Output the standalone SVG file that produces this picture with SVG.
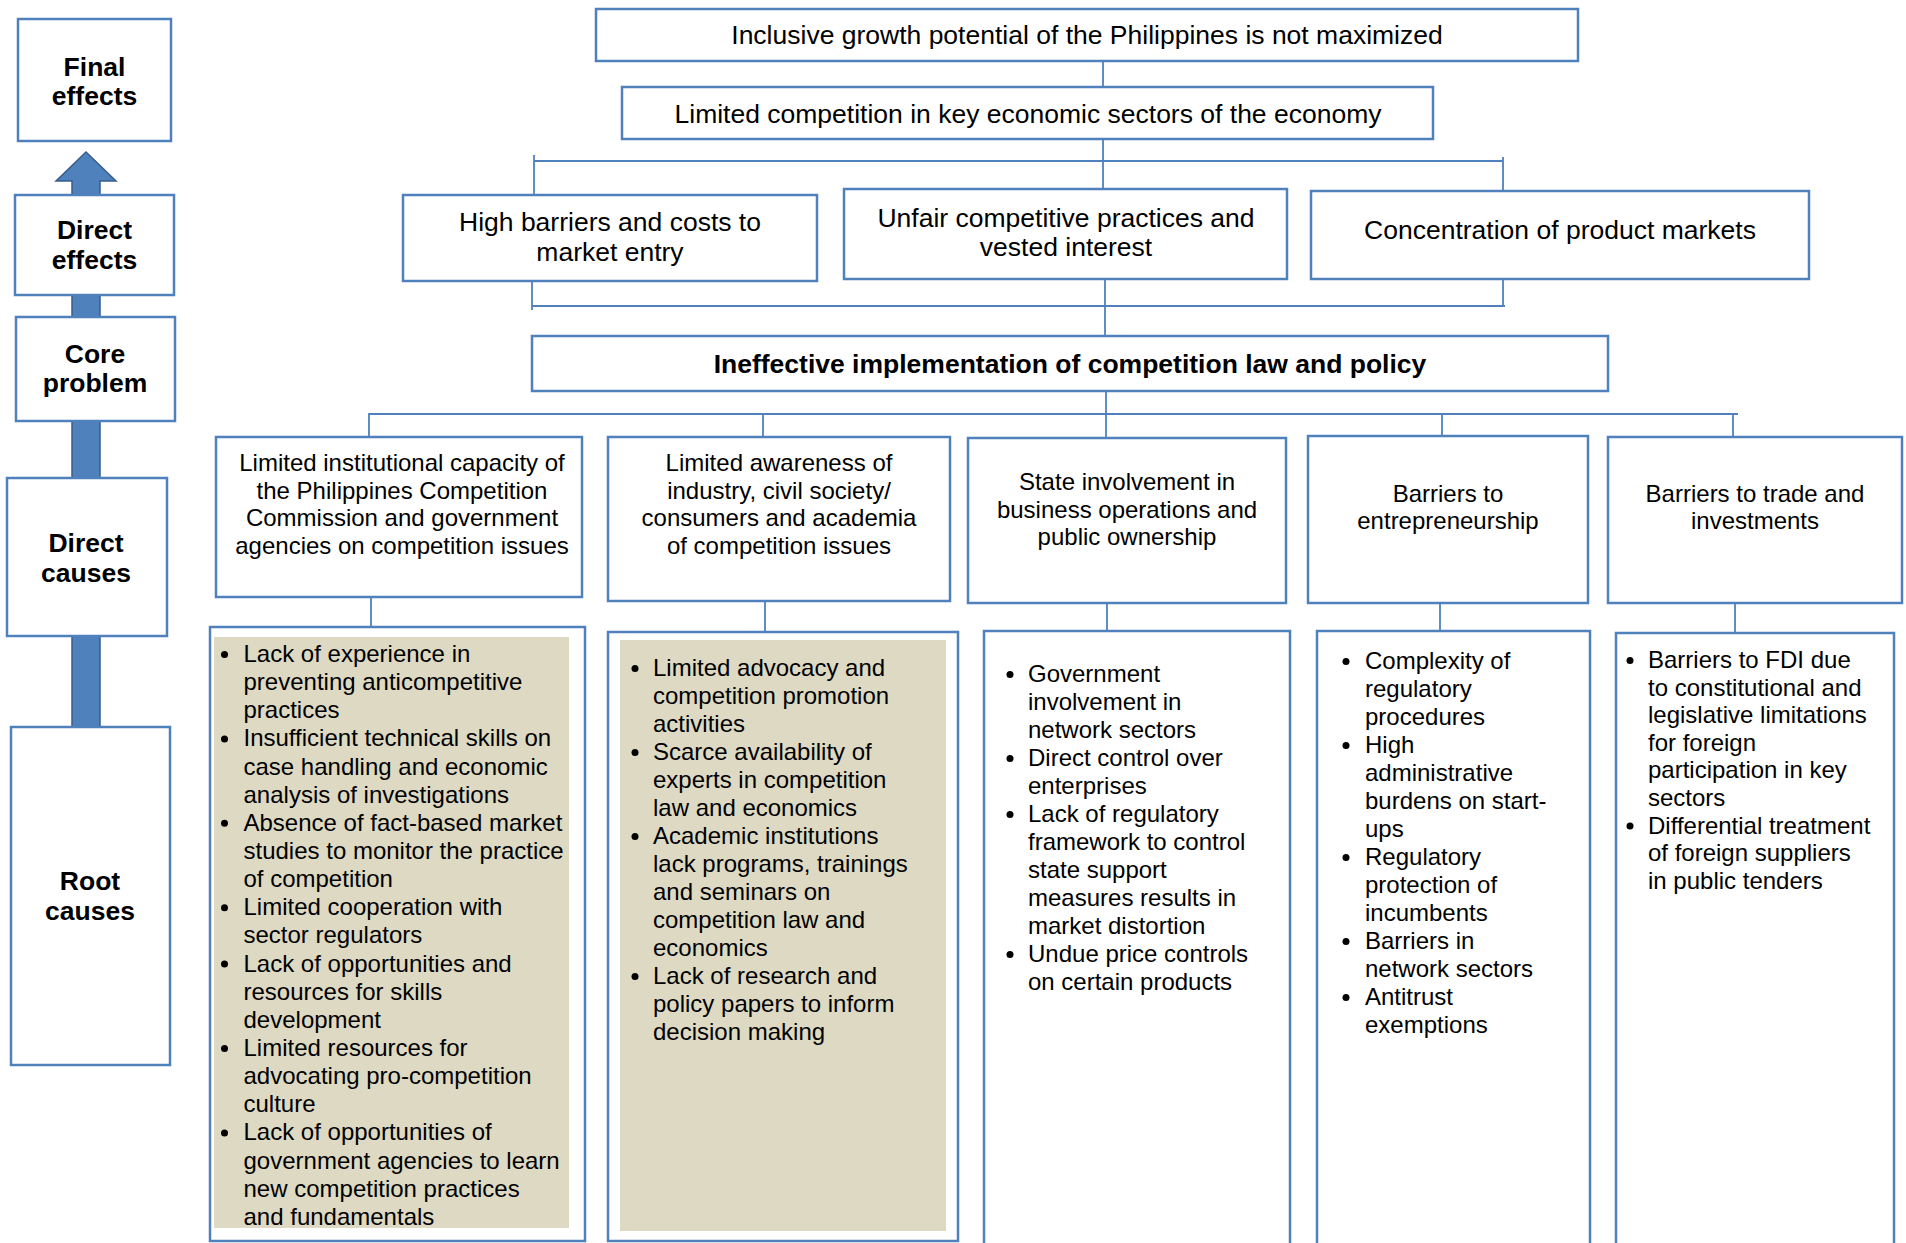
<svg xmlns="http://www.w3.org/2000/svg" width="1906" height="1243" viewBox="0 0 1906 1243">
<style>
.box{fill:#ffffff;stroke:#4F81BD;stroke-width:2.5}
.tan{fill:#DDD9C3;stroke:none}
.con line{stroke:#4F81BD;stroke-width:1.8}
.t{font-family:"Liberation Sans",Arial,sans-serif;fill:#000}
.big{font-size:26.5px}
.lbl{font-size:26.5px;font-weight:bold}
.mid{font-size:24px}
.c{text-anchor:middle}
.b{fill:#000}
</style>
<rect x="0" y="0" width="1906" height="1243" fill="#ffffff"/>

<g id="side-arrow">
<polygon points="86,152 116,181 100,181 100,727 72,727 72,181 56,181" fill="#4F81BD" stroke="#385D8A" stroke-width="1.5"/>
</g>

<g id="lbl-final"><rect class="box" x="18" y="19" width="153" height="122"/>
<text class="t lbl c" x="94.5"><tspan x="94.5" y="76">Final</tspan><tspan x="94.5" y="105">effects</tspan></text></g>
<g id="lbl-direct-effects"><rect class="box" x="15" y="195" width="159" height="100"/>
<text class="t lbl c"><tspan x="94.5" y="239">Direct</tspan><tspan x="94.5" y="269">effects</tspan></text></g>
<g id="lbl-core"><rect class="box" x="16" y="317" width="159" height="104"/>
<text class="t lbl c"><tspan x="95" y="363">Core</tspan><tspan x="95" y="392">problem</tspan></text></g>
<g id="lbl-direct-causes"><rect class="box" x="7" y="478" width="160" height="158"/>
<text class="t lbl c"><tspan x="86" y="552">Direct</tspan><tspan x="86" y="582">causes</tspan></text></g>
<g id="lbl-root"><rect class="box" x="11" y="727" width="159" height="338"/>
<text class="t lbl c"><tspan x="90" y="890">Root</tspan><tspan x="90" y="920">causes</tspan></text></g>

<g class="con" id="connectors">
<line x1="1103" y1="61" x2="1103" y2="87"/>
<line x1="1103" y1="139" x2="1103" y2="189"/>
<line x1="534" y1="161" x2="1503" y2="161" style="stroke-width:2.2"/>
<line x1="534" y1="155" x2="534" y2="195"/>
<line x1="1503" y1="157" x2="1503" y2="191"/>
<line x1="532" y1="306" x2="1505" y2="306" style="stroke-width:2.2"/>
<line x1="532" y1="281" x2="532" y2="310"/>
<line x1="1503" y1="279" x2="1503" y2="306"/>
<line x1="1105" y1="279" x2="1105" y2="336"/>
<line x1="1106" y1="391" x2="1106" y2="438"/>
<line x1="369" y1="414" x2="1738" y2="414" style="stroke-width:2.2"/>
<line x1="369" y1="413" x2="369" y2="437"/>
<line x1="763" y1="414" x2="763" y2="437"/>
<line x1="1442" y1="414" x2="1442" y2="436"/>
<line x1="1733" y1="414" x2="1733" y2="437"/>
<line x1="371" y1="597" x2="371" y2="627"/>
<line x1="765" y1="601" x2="765" y2="632"/>
<line x1="1107" y1="603" x2="1107" y2="631"/>
<line x1="1440" y1="603" x2="1440" y2="631"/>
<line x1="1735" y1="603" x2="1735" y2="633"/>
</g>

<g id="final-effect"><rect class="box" x="596" y="9" width="982" height="52"/>
<text class="t big c" x="1087" y="44">Inclusive growth potential of the Philippines is not maximized</text></g>
<g id="direct-effect-main"><rect class="box" x="622" y="87" width="811" height="52"/>
<text class="t big c" x="1028" y="123">Limited competition in key economic sectors of the economy</text></g>

<g id="effect-barriers"><rect class="box" x="403" y="195" width="414" height="86"/>
<text class="t big c"><tspan x="610" y="231">High barriers and costs to</tspan><tspan x="610" y="261">market entry</tspan></text></g>
<g id="effect-unfair"><rect class="box" x="844" y="189" width="443" height="90"/>
<text class="t big c"><tspan x="1066" y="227">Unfair competitive practices and</tspan><tspan x="1066" y="256">vested interest</tspan></text></g>
<g id="effect-concentration"><rect class="box" x="1311" y="191" width="498" height="88"/>
<text class="t big c" x="1560" y="239">Concentration of product markets</text></g>

<g id="core-problem"><rect class="box" x="532" y="336" width="1076" height="55"/>
<text class="t lbl c" x="1070" y="373">Ineffective implementation of competition law and policy</text></g>

<g id="cause-1"><rect class="box" x="216" y="437" width="366" height="160"/>
<text class="t mid c"><tspan x="402" y="471">Limited institutional capacity of</tspan><tspan x="402" y="498.5">the Philippines Competition</tspan><tspan x="402" y="526">Commission and government</tspan><tspan x="402" y="553.5">agencies on competition issues</tspan></text></g>
<g id="cause-2"><rect class="box" x="608" y="437" width="342" height="164"/>
<text class="t mid c"><tspan x="779" y="471">Limited awareness of</tspan><tspan x="779" y="498.5">industry, civil society/</tspan><tspan x="779" y="526">consumers and academia</tspan><tspan x="779" y="553.5">of competition issues</tspan></text></g>
<g id="cause-3"><rect class="box" x="968" y="438" width="318" height="165"/>
<text class="t mid c"><tspan x="1127" y="490">State involvement in</tspan><tspan x="1127" y="518">business operations and</tspan><tspan x="1127" y="545">public ownership</tspan></text></g>
<g id="cause-4"><rect class="box" x="1308" y="436" width="280" height="167"/>
<text class="t mid c"><tspan x="1448" y="502">Barriers to</tspan><tspan x="1448" y="529">entrepreneurship</tspan></text></g>
<g id="cause-5"><rect class="box" x="1608" y="437" width="294" height="166"/>
<text class="t mid c"><tspan x="1755" y="502">Barriers to trade and</tspan><tspan x="1755" y="529">investments</tspan></text></g>

<g id="root-1"><rect class="box" x="210" y="627" width="375" height="614"/>
<rect class="tan" x="214" y="637" width="355" height="591"/>
<g class="b"><circle cx="224.5" cy="654.5" r="3.5"/><circle cx="224.5" cy="738.9" r="3.5"/><circle cx="224.5" cy="823.3" r="3.5"/><circle cx="224.5" cy="907.8" r="3.5"/><circle cx="224.5" cy="964" r="3.5"/><circle cx="224.5" cy="1048.5" r="3.5"/><circle cx="224.5" cy="1132.9" r="3.5"/></g>
<text class="t mid" x="243.5" y="662"><tspan x="243.5" dy="0">Lack of experience in</tspan><tspan x="243.5" dy="28.14">preventing anticompetitive</tspan><tspan x="243.5" dy="28.14">practices</tspan><tspan x="243.5" dy="28.14">Insufficient technical skills on</tspan><tspan x="243.5" dy="28.14">case handling and economic</tspan><tspan x="243.5" dy="28.14">analysis of investigations</tspan><tspan x="243.5" dy="28.14">Absence of fact-based market</tspan><tspan x="243.5" dy="28.14">studies to monitor the practice</tspan><tspan x="243.5" dy="28.14">of competition</tspan><tspan x="243.5" dy="28.14">Limited cooperation with</tspan><tspan x="243.5" dy="28.14">sector regulators</tspan><tspan x="243.5" dy="28.14">Lack of opportunities and</tspan><tspan x="243.5" dy="28.14">resources for skills</tspan><tspan x="243.5" dy="28.14">development</tspan><tspan x="243.5" dy="28.14">Limited resources for</tspan><tspan x="243.5" dy="28.14">advocating pro-competition</tspan><tspan x="243.5" dy="28.14">culture</tspan><tspan x="243.5" dy="28.14">Lack of opportunities of</tspan><tspan x="243.5" dy="28.14">government agencies to learn</tspan><tspan x="243.5" dy="28.14">new competition practices</tspan><tspan x="243.5" dy="28.14">and fundamentals</tspan></text></g>

<g id="root-2"><rect class="box" x="608" y="632" width="350" height="609"/>
<rect class="tan" x="620" y="640" width="326" height="591"/>
<g class="b"><circle cx="635" cy="668.5" r="3.5"/><circle cx="635" cy="752.5" r="3.5"/><circle cx="635" cy="836.5" r="3.5"/><circle cx="635" cy="976.5" r="3.5"/></g>
<text class="t mid" x="653" y="676"><tspan x="653" dy="0">Limited advocacy and</tspan><tspan x="653" dy="28">competition promotion</tspan><tspan x="653" dy="28">activities</tspan><tspan x="653" dy="28">Scarce availability of</tspan><tspan x="653" dy="28">experts in competition</tspan><tspan x="653" dy="28">law and economics</tspan><tspan x="653" dy="28">Academic institutions</tspan><tspan x="653" dy="28">lack programs, trainings</tspan><tspan x="653" dy="28">and seminars on</tspan><tspan x="653" dy="28">competition law and</tspan><tspan x="653" dy="28">economics</tspan><tspan x="653" dy="28">Lack of research and</tspan><tspan x="653" dy="28">policy papers to inform</tspan><tspan x="653" dy="28">decision making</tspan></text></g>

<g id="root-3"><rect class="box" x="984" y="631" width="306" height="625"/>
<g class="b"><circle cx="1010" cy="674.5" r="3.5"/><circle cx="1010" cy="758.5" r="3.5"/><circle cx="1010" cy="814.5" r="3.5"/><circle cx="1010" cy="954.5" r="3.5"/></g>
<text class="t mid" x="1028" y="682"><tspan x="1028" dy="0">Government</tspan><tspan x="1028" dy="28">involvement in</tspan><tspan x="1028" dy="28">network sectors</tspan><tspan x="1028" dy="28">Direct control over</tspan><tspan x="1028" dy="28">enterprises</tspan><tspan x="1028" dy="28">Lack of regulatory</tspan><tspan x="1028" dy="28">framework to control</tspan><tspan x="1028" dy="28">state support</tspan><tspan x="1028" dy="28">measures results in</tspan><tspan x="1028" dy="28">market distortion</tspan><tspan x="1028" dy="28">Undue price controls</tspan><tspan x="1028" dy="28">on certain products</tspan></text></g>

<g id="root-4"><rect class="box" x="1317" y="631" width="273" height="625"/>
<g class="b"><circle cx="1346" cy="661.5" r="3.5"/><circle cx="1346" cy="745.5" r="3.5"/><circle cx="1346" cy="857.5" r="3.5"/><circle cx="1346" cy="941.5" r="3.5"/><circle cx="1346" cy="997.5" r="3.5"/></g>
<text class="t mid" x="1365" y="669"><tspan x="1365" dy="0">Complexity of</tspan><tspan x="1365" dy="28">regulatory</tspan><tspan x="1365" dy="28">procedures</tspan><tspan x="1365" dy="28">High</tspan><tspan x="1365" dy="28">administrative</tspan><tspan x="1365" dy="28">burdens on start-</tspan><tspan x="1365" dy="28">ups</tspan><tspan x="1365" dy="28">Regulatory</tspan><tspan x="1365" dy="28">protection of</tspan><tspan x="1365" dy="28">incumbents</tspan><tspan x="1365" dy="28">Barriers in</tspan><tspan x="1365" dy="28">network sectors</tspan><tspan x="1365" dy="28">Antitrust</tspan><tspan x="1365" dy="28">exemptions</tspan></text></g>

<g id="root-5"><rect class="box" x="1616" y="633" width="278" height="625"/>
<g class="b"><circle cx="1630" cy="660.5" r="3.5"/><circle cx="1630" cy="826.1" r="3.5"/></g>
<text class="t mid" x="1648" y="668"><tspan x="1648" dy="0">Barriers to FDI due</tspan><tspan x="1648" dy="27.6">to constitutional and</tspan><tspan x="1648" dy="27.6">legislative limitations</tspan><tspan x="1648" dy="27.6">for foreign</tspan><tspan x="1648" dy="27.6">participation in key</tspan><tspan x="1648" dy="27.6">sectors</tspan><tspan x="1648" dy="27.6">Differential treatment</tspan><tspan x="1648" dy="27.6">of foreign suppliers</tspan><tspan x="1648" dy="27.6">in public tenders</tspan></text></g>
</svg>
